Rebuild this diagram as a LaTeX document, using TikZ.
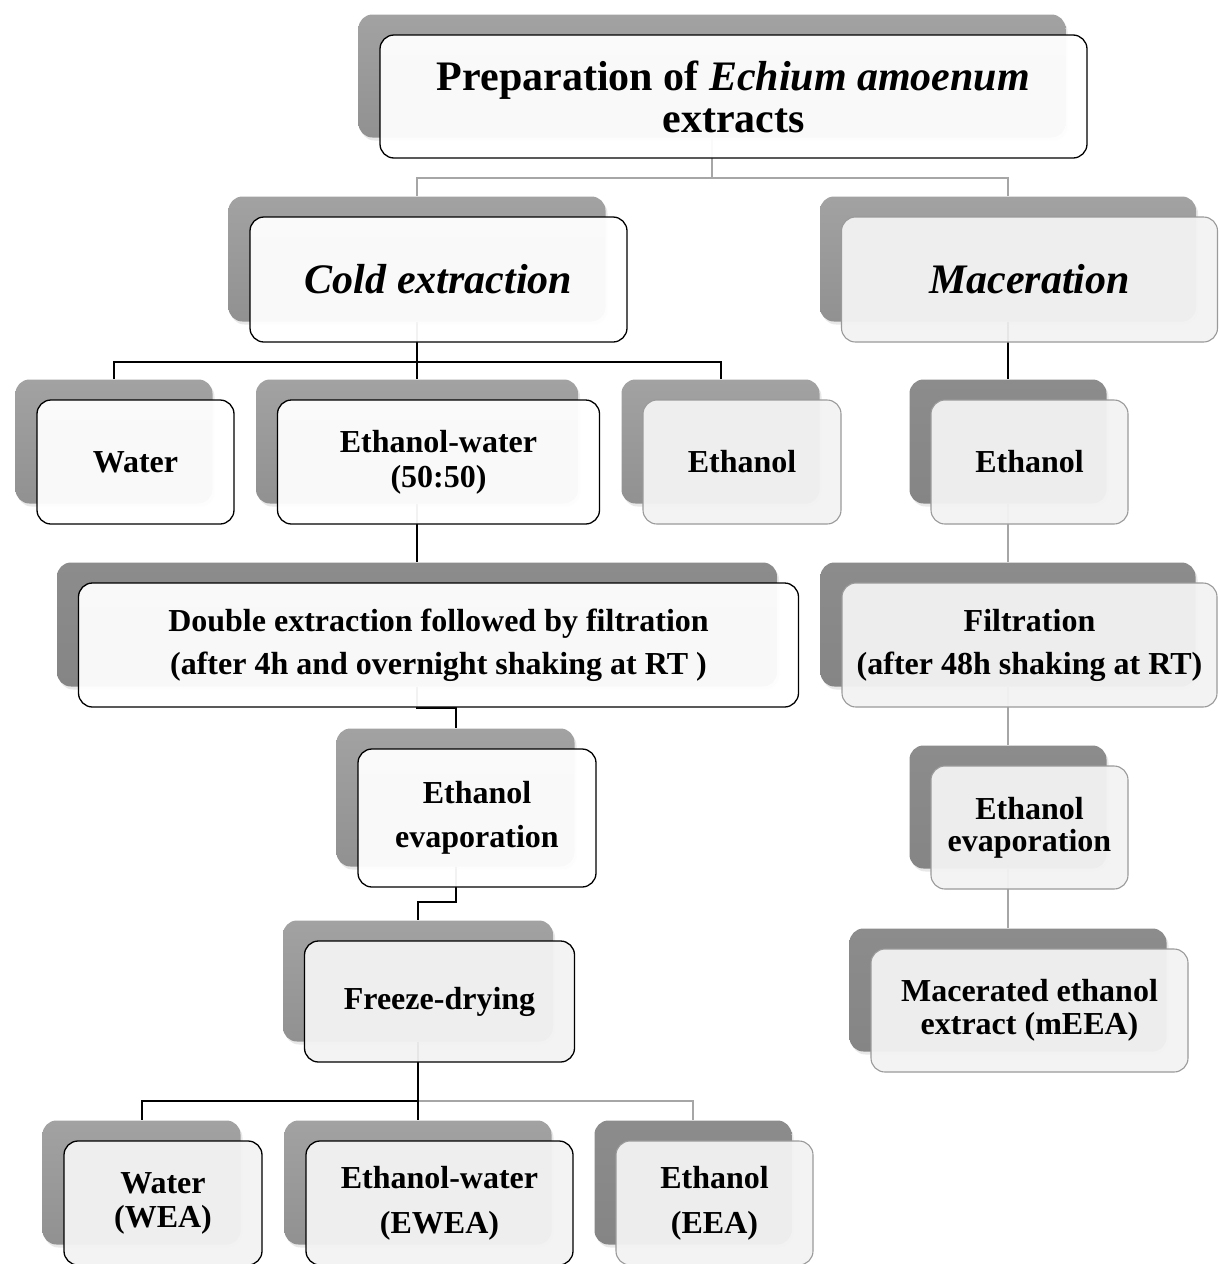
\documentclass[tikz,border=0pt]{standalone}
\usepackage{fontspec}
\setmainfont{Liberation Serif}
\usetikzlibrary{shadows}
\pgfdeclarelayer{bg}
\pgfsetlayers{bg,main}
\definecolor{shtop}{HTML}{A2A2A2}
\definecolor{shbot}{HTML}{919191}
\definecolor{shdtop}{HTML}{8C8C8C}
\definecolor{shdbot}{HTML}{858585}
\definecolor{lightfill}{HTML}{F3F3F3}
\definecolor{gborder}{HTML}{9A9A9A}
\definecolor{gline}{HTML}{A6A6A6}
\tikzset{
  shadowbox/.style={rounded corners=14pt, draw=none, top color=shtop, bottom color=shbot, inner sep=0pt,
    drop shadow={opacity=0.18, shadow xshift=2pt, shadow yshift=-3pt}},
  shadowdark/.style={top color=shdtop, bottom color=shdbot},
  frontbase/.style={rounded corners=14pt, inner sep=0pt, align=center, fill opacity=0.95, text opacity=1},
  wbox/.style={frontbase, fill=white, draw=black, line width=1.3pt},
  gbox/.style={frontbase, fill=lightfill, draw=gborder, line width=1.1pt},
  kbox/.style={frontbase, fill=lightfill, draw=black, line width=1.3pt},
  fs/.style={font=\bfseries\fontsize{32}{#1}\selectfont},
  bigfs/.style={font=\bfseries\fontsize{42}{#1}\selectfont},
  kline/.style={draw=black, line width=2pt},
  grline/.style={draw=gline, line width=2pt},
}
% name, cx, cy, w, h, shadow style, front style, text
\newcommand\flowbox[8]{%
  \node[shadowbox,#6,minimum width=#4pt,minimum height=#5pt] (s#1) at ({#2-21.5},{#3-20.5}) {};
  \node[#7,minimum width=#4pt,minimum height=#5pt] (#1) at (#2,#3) {#8};
}
\begin{document}
\begin{tikzpicture}[x=1pt,y=-1pt]
\useasboundingbox (0,0) rectangle (1219,1264);

\flowbox{title}{733.5}{96.5}{707}{123}{}{wbox,bigfs=42}{Preparation of \textit{Echium amoenum}\\extracts}
\flowbox{cold}{438.5}{279.5}{377}{125}{}{wbox,bigfs=42}{\textit{Cold extraction}}
\flowbox{mac}{1029.5}{279.5}{376}{125}{}{gbox,bigfs=42}{\textit{Maceration}}

\flowbox{water}{135.5}{462}{197}{124}{}{wbox,fs=38}{Water}
\flowbox{ew}{438.5}{462}{322}{124}{}{wbox,fs=35}{Ethanol-water\\(50:50)}
\flowbox{ethc}{742}{462}{198}{124}{}{gbox,fs=38}{Ethanol}
\flowbox{ethm}{1029.5}{462}{197}{124}{shadowdark}{gbox,fs=38}{Ethanol}

\flowbox{double}{438.5}{645}{720}{124}{shadowdark}{wbox,fs=43}{Double extraction followed by filtration\\(after 4h and overnight shaking at RT )}
\flowbox{filt}{1029.5}{645}{375}{124}{shadowdark}{gbox,fs=43}{Filtration\\(after 48h shaking at RT)}

\flowbox{evapc}{477}{818}{238}{138}{}{wbox,fs=44}{Ethanol\\evaporation}
\flowbox{evapm}{1029.5}{827.5}{197}{123}{shadowdark}{gbox,fs=32}{Ethanol\\evaporation}

\flowbox{freeze}{439.5}{1001.5}{270}{121}{}{kbox,fs=38}{Freeze-drying}
\flowbox{macd}{1029.5}{1010.5}{317}{123}{shadowdark}{gbox,fs=33}{Macerated ethanol\\extract (mEEA)}

\flowbox{wea}{163}{1203}{198}{124}{}{kbox,fs=34}{Water\\(WEA)}
\flowbox{ewea}{439.5}{1203}{267}{124}{}{kbox,fs=45}{Ethanol-water\\(EWEA)}
\flowbox{eea}{714.5}{1203}{197}{124}{shadowdark}{gbox,fs=45}{Ethanol\\(EEA)}

\begin{pgfonlayer}{bg}
  \fill[white] (0,0) rectangle (1219,1264);
  \coordinate (j1) at (712,178);
  \draw[grline] (stitle.south) -- (j1) -| (scold.north);
  \draw[grline] (j1) -| (smac.north);

  \coordinate (j2) at (417,362);
  \draw[kline] (scold.south) -- (j2) -| (swater.north);
  \draw[kline] (j2) -| (sethc.north);
  \draw[kline] (j2) -| (sew.north);

  \draw[kline] (smac.south) -- (sethm.north);
  \draw[kline] (sew.south) -- (sdouble.north);

  \coordinate (j3) at (417,708);
  \draw[kline] (sdouble.south) -- (j3) -| (sevapc.north);
  \coordinate (j4) at (455.5,902);
  \draw[kline] (sevapc.south) -- (j4) -| (sfreeze.north);

  \coordinate (j5) at (418,1101);
  \draw[grline] (j5) -| (seea.north);
  \draw[kline] (sfreeze.south) -- (j5) -| (swea.north);
  \draw[kline] (j5) -- (sewea.north);

  \draw[grline] (sethm.south) -- (sfilt.north);
  \draw[grline] (sfilt.south) -- (sevapm.north);
  \draw[grline] (sevapm.south) -- (smacd.north);
\end{pgfonlayer}
\end{tikzpicture}
\end{document}
